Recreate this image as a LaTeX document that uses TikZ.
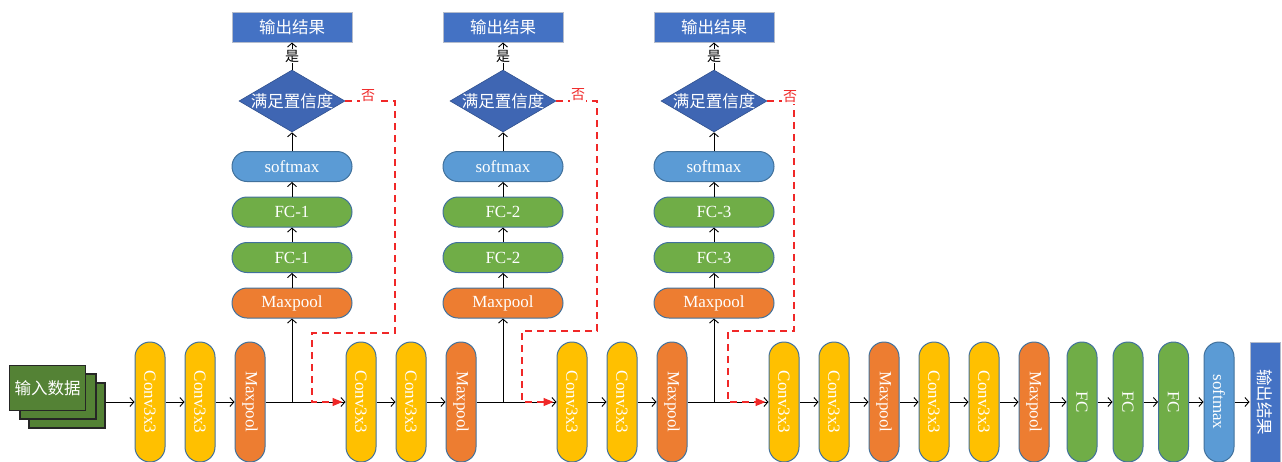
\documentclass[tikz,border=0pt]{standalone}
\usepackage{fontspec}
\usepackage{graphicx}
\setmainfont{Liberation Serif}
\newfontfamily\cjk{Noto Sans CJK SC}
\usetikzlibrary{arrows.meta,shapes.geometric}

\definecolor{convc}{HTML}{FFC000}
\definecolor{poolc}{HTML}{ED7D31}
\definecolor{fcc}{HTML}{70AD47}
\definecolor{smc}{HTML}{5B9BD5}
\definecolor{outc}{HTML}{4472C4}
\definecolor{diac}{HTML}{3F66B3}
\definecolor{edgec}{HTML}{41719C}
\definecolor{inc}{HTML}{548235}
\definecolor{outedge}{HTML}{B4BCCC}
\definecolor{noc}{HTML}{F02828}

\tikzset{
  txt/.style={text=white, font=\fontsize{17}{19}\selectfont},
  cjktxt/.style={text=white, font=\cjk\fontsize{16.5}{18}\selectfont},
  pillv/.style={txt, draw=edgec, line width=1pt, rounded corners=15pt,
    minimum width=30pt, minimum height=120pt, inner sep=0pt},
  pillh/.style={txt, draw=edgec, line width=1pt, rounded corners=15pt,
    minimum width=120pt, minimum height=30pt, inner sep=0pt},
  outbox/.style={cjktxt, fill=outc, draw=outedge, line width=1pt, inner sep=0pt},
  inbox/.style={cjktxt, fill=inc, draw=black!85, line width=1.2pt,
    minimum width=76pt, minimum height=45pt, inner sep=0pt},
  decide/.style={diamond, fill=diac, draw=diac!80!black, line width=0.6pt,
    minimum width=106pt, minimum height=62pt, inner sep=0pt},
  arr/.style={-{Straight Barb[length=4pt,width=9pt]}, line width=0.9pt},
  back/.style={draw=noc, dash pattern=on 7pt off 5pt, line width=1.3pt,
    -{Triangle[length=10pt,width=8pt]}, shorten >=3pt},
  notxt/.style={text=noc, fill=white, inner sep=1pt, font=\cjk\fontsize{14}{15}\selectfont},
  yestxt/.style={fill=white, inner sep=0.5pt, font=\cjk\fontsize{14}{15}\selectfont},
}

\newcommand{\vt}[1]{\rotatebox{-90}{#1}}

\begin{document}
\begin{tikzpicture}[x=1pt,y=-1pt]
\useasboundingbox (0,0) rectangle (1282,461);
\begin{scope}
\clip (0,0) rectangle (1282,461);

% input stack
\node[inbox] (in3) at (67,405.5) {};
\node[inbox] (in2) at (58,396.5) {};
\node[inbox] (in1) at (47.5,388) {输入数据};

% main chain
\node[pillv, fill=convc] (c1) at (150,402) {\vt{Conv3x3}};
\node[pillv, fill=convc] (c2) at (200,402) {\vt{Conv3x3}};
\node[pillv, fill=poolc] (p1) at (250,402) {\vt{Maxpool}};
\node[pillv, fill=convc] (c3) at (361,402) {\vt{Conv3x3}};
\node[pillv, fill=convc] (c4) at (411,402) {\vt{Conv3x3}};
\node[pillv, fill=poolc] (p2) at (461,402) {\vt{Maxpool}};
\node[pillv, fill=convc] (c5) at (572,402) {\vt{Conv3x3}};
\node[pillv, fill=convc] (c6) at (622,402) {\vt{Conv3x3}};
\node[pillv, fill=poolc] (p3) at (672,402) {\vt{Maxpool}};
\node[pillv, fill=convc] (c7) at (784,402) {\vt{Conv3x3}};
\node[pillv, fill=convc] (c8) at (834,402) {\vt{Conv3x3}};
\node[pillv, fill=poolc] (p4) at (884,402) {\vt{Maxpool}};
\node[pillv, fill=convc] (c9) at (934,402) {\vt{Conv3x3}};
\node[pillv, fill=convc] (c10) at (984,402) {\vt{Conv3x3}};
\node[pillv, fill=poolc] (p5) at (1034,402) {\vt{Maxpool}};
\node[pillv, fill=fcc] (f1) at (1082,402) {\vt{FC}};
\node[pillv, fill=fcc] (f2) at (1128,402) {\vt{FC}};
\node[pillv, fill=fcc] (f3) at (1173.5,402) {\vt{FC}};
\node[pillv, fill=smc] (sm) at (1219,402) {\vt{softmax}};
\node[outbox, minimum width=30pt, minimum height=120pt] (out) at (1265,402) {\vt{输出结果}};

% early-exit branches
\foreach \k/\x in {1/292, 2/503, 3/714}{
  \node[pillh, fill=poolc] (bp\k) at (\x,303) {Maxpool};
  \node[pillh, fill=fcc] (bfa\k) at (\x,257.5) {FC-\k};
  \node[pillh, fill=fcc] (bfb\k) at (\x,212) {FC-\k};
  \node[pillh, fill=smc] (bs\k) at (\x,166.5) {softmax};
  \node[decide] (bd\k) at (\x,101) {};
  \node[cjktxt] (bdt\k) at (bd\k) {满足置信度};
  \node[outbox, minimum width=120pt, minimum height=30pt] (bo\k) at (\x,27) {输出结果};
  \coordinate (j\k) at (\x,402);
  \draw[arr] (j\k) -- (bp\k.south);
  \draw[arr] (bp\k.north) -- (bfa\k.south);
  \draw[arr] (bfa\k.north) -- (bfb\k.south);
  \draw[arr] (bfb\k.north) -- (bs\k.south);
  \draw[arr] (bs\k.north) -- (bd\k.south);
  \draw[arr] (bd\k.north) -- node[yestxt] (yes\k) {是} (bo\k.south);
}

% main arrows
\draw[arr] (in3.east |- c1.west) -- (c1.west);
\draw[arr] (c1) -- (c2);
\draw[arr] (c2) -- (p1);
\draw[arr] (p1) -- (c3);
\draw[arr] (c3) -- (c4);
\draw[arr] (c4) -- (p2);
\draw[arr] (p2) -- (c5);
\draw[arr] (c5) -- (c6);
\draw[arr] (c6) -- (p3);
\draw[arr] (p3) -- (c7);
\draw[arr] (c7) -- (c8);
\draw[arr] (c8) -- (p4);
\draw[arr] (p4) -- (c9);
\draw[arr] (c9) -- (c10);
\draw[arr] (c10) -- (p5);
\draw[arr] (p5) -- (f1);
\draw[arr] (f1) -- (f2);
\draw[arr] (f2) -- (f3);
\draw[arr] (f3) -- (sm);
\draw[arr] (sm) -- (out);

% fall-through paths when confidence is too low
\draw[back] (bd1.east) -- (395,101) -- (395,333) -- (312,333) -- (312,402) -- (c3.west);
\draw[back] (bd2.east) -- (597,101) -- (597,331) -- (522,331) -- (522,402) -- (c5.west);
\draw[back] (bd3.east) -- (794,101) -- (794,331) -- (728,331) -- (728,402) -- (c7.west);
\node[notxt] (no1) at (368,96) {否};
\node[notxt] (no2) at (578,95) {否};
\node[notxt] (no3) at (790,97) {否};
\end{scope}
\end{tikzpicture}
\end{document}
